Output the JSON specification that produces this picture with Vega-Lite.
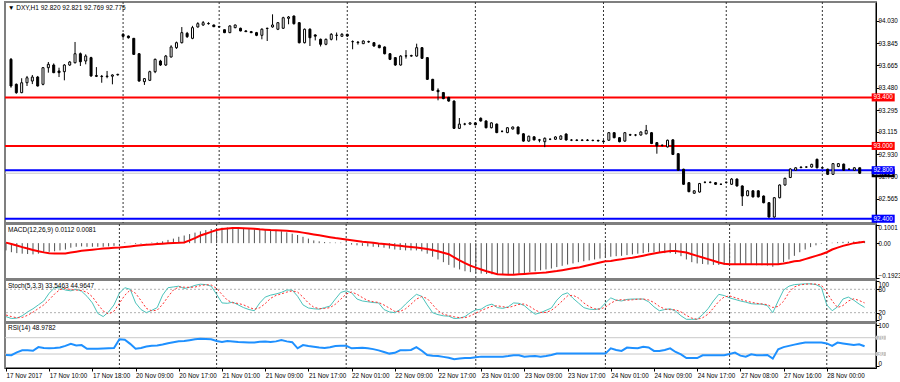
{
"$schema": "https://vega.github.io/schema/vega-lite/v6.json",
"padding": {"left": 0, "top": 0, "right": 0, "bottom": 0},
"background": "white",
"bounds": "flush",
"spacing": 1,
"config": {
  "font": "Liberation Sans",
  "view": {"stroke": "#7f7f7f", "strokeWidth": 2},
  "axis": {"domainColor": "black", "tickColor": "black", "labelColor": "black", "labelFontSize": 6.3, "labelFont": "Liberation Sans", "grid": false, "title": null, "tickSize": 3, "labelPadding": -1, "labelOverlap": false, "labelFlush": false},
  "title": {"fontSize": 6.5, "fontWeight": "normal", "font": "Liberation Sans", "anchor": "start", "frame": "group", "offset": -9.5, "dx": 3, "color": "black"}
},
"datasets": {
"seps": [{"i":21},{"i":39},{"i":63},{"i":87},{"i":111},{"i":134},{"i":152}],
"levels": [{"p":93.4,"kind":"res","t":"93.400"},{"p":93.0,"kind":"res","t":"93.000"},{"p":92.8,"kind":"sup","t":"92.800"},{"p":92.4,"kind":"sup","t":"92.400"}],
"bid": [{"p":92.775,"t":"92.775"}],
"stochlv": [{"v":80},{"v":20}],
"rsilv": [{"v":70,"t":"70"},{"v":30,"t":"30"}],
"bars": [
{"i":0,"o":93.714,"h":93.725,"l":93.48,"c":93.494,"m":-0.04,"s":0.003,"k":10,"d":14,"r":27.5},
{"i":1,"o":93.508,"h":93.515,"l":93.43,"c":93.439,"m":-0.05,"s":-0.005,"k":5,"d":10,"r":27},
{"i":2,"o":93.439,"h":93.558,"l":93.435,"c":93.521,"m":-0.055,"s":-0.013,"k":6,"d":7,"r":34},
{"i":3,"o":93.521,"h":93.577,"l":93.494,"c":93.562,"m":-0.058,"s":-0.022,"k":12,"d":7.7,"r":39},
{"i":4,"o":93.535,"h":93.585,"l":93.51,"c":93.568,"m":-0.06,"s":-0.03,"k":22,"d":13.3,"r":39},
{"i":5,"o":93.568,"h":93.577,"l":93.49,"c":93.494,"m":-0.062,"s":-0.038,"k":30,"d":21.3,"r":38},
{"i":6,"o":93.508,"h":93.65,"l":93.5,"c":93.645,"m":-0.058,"s":-0.045,"k":40,"d":30.7,"r":47},
{"i":7,"o":93.645,"h":93.692,"l":93.604,"c":93.673,"m":-0.05,"s":-0.051,"k":50,"d":40,"r":45},
{"i":8,"o":93.667,"h":93.68,"l":93.6,"c":93.604,"m":-0.048,"s":-0.056,"k":70,"d":53.3,"r":44},
{"i":9,"o":93.618,"h":93.645,"l":93.568,"c":93.604,"m":-0.045,"s":-0.057,"k":84,"d":68,"r":44.5},
{"i":10,"o":93.612,"h":93.675,"l":93.541,"c":93.667,"m":-0.04,"s":-0.057,"k":84,"d":79.3,"r":46},
{"i":11,"o":93.667,"h":93.7,"l":93.66,"c":93.692,"m":-0.035,"s":-0.057,"k":78,"d":82,"r":50},
{"i":12,"o":93.686,"h":93.857,"l":93.68,"c":93.76,"m":-0.025,"s":-0.052,"k":76,"d":79.3,"r":55},
{"i":13,"o":93.76,"h":93.77,"l":93.659,"c":93.694,"m":-0.02,"s":-0.047,"k":80,"d":78,"r":51},
{"i":14,"o":93.7,"h":93.755,"l":93.673,"c":93.741,"m":-0.018,"s":-0.042,"k":75,"d":77,"r":52},
{"i":15,"o":93.728,"h":93.735,"l":93.57,"c":93.577,"m":-0.02,"s":-0.039,"k":62,"d":72.3,"r":43},
{"i":16,"o":93.58,"h":93.65,"l":93.568,"c":93.574,"m":-0.02,"s":-0.036,"k":45,"d":60.7,"r":43},
{"i":17,"o":93.574,"h":93.585,"l":93.521,"c":93.572,"m":-0.02,"s":-0.033,"k":18,"d":41.7,"r":43},
{"i":18,"o":93.572,"h":93.618,"l":93.558,"c":93.576,"m":-0.02,"s":-0.03,"k":10,"d":24.3,"r":43.5},
{"i":19,"o":93.575,"h":93.59,"l":93.508,"c":93.585,"m":-0.018,"s":-0.028,"k":22,"d":16.7,"r":44},
{"i":20,"o":93.586,"h":93.595,"l":93.58,"c":93.59,"m":-0.015,"s":-0.026,"k":40,"d":24,"r":44.5},
{"i":21,"o":93.92,"h":93.93,"l":93.89,"c":93.904,"m":0.002,"s":-0.024,"k":70,"d":44,"r":66},
{"i":22,"o":93.906,"h":93.91,"l":93.885,"c":93.892,"m":0.004,"s":-0.021,"k":84,"d":64.7,"r":65},
{"i":23,"o":93.887,"h":93.89,"l":93.75,"c":93.755,"m":0.001,"s":-0.018,"k":80,"d":78,"r":55},
{"i":24,"o":93.76,"h":93.765,"l":93.53,"c":93.535,"m":-0.004,"s":-0.015,"k":45,"d":69.7,"r":43},
{"i":25,"o":93.53,"h":93.56,"l":93.503,"c":93.555,"m":-0.003,"s":-0.012,"k":28,"d":51,"r":45},
{"i":26,"o":93.541,"h":93.62,"l":93.535,"c":93.612,"m":-0.001,"s":-0.009,"k":20,"d":31,"r":48.5},
{"i":27,"o":93.612,"h":93.72,"l":93.6,"c":93.714,"m":0.003,"s":-0.007,"k":26,"d":24.7,"r":50},
{"i":28,"o":93.7,"h":93.71,"l":93.66,"c":93.667,"m":0.005,"s":-0.005,"k":33,"d":26.3,"r":51},
{"i":29,"o":93.667,"h":93.75,"l":93.66,"c":93.741,"m":0.01,"s":-0.003,"k":65,"d":41.3,"r":53.5},
{"i":30,"o":93.733,"h":93.83,"l":93.73,"c":93.816,"m":0.018,"s":-0.001,"k":84,"d":60.7,"r":56.5},
{"i":31,"o":93.81,"h":93.86,"l":93.8,"c":93.851,"m":0.025,"s":0.001,"k":86,"d":78.3,"r":59},
{"i":32,"o":93.851,"h":93.98,"l":93.845,"c":93.934,"m":0.035,"s":0.002,"k":88,"d":86,"r":61.5},
{"i":33,"o":93.928,"h":93.94,"l":93.89,"c":93.901,"m":0.042,"s":0.004,"k":82,"d":85.3,"r":62},
{"i":34,"o":93.887,"h":93.99,"l":93.88,"c":93.975,"m":0.05,"s":0.015,"k":85,"d":85,"r":64},
{"i":35,"o":93.981,"h":94.02,"l":93.975,"c":94.008,"m":0.058,"s":0.028,"k":90,"d":85.7,"r":66},
{"i":36,"o":93.997,"h":94.03,"l":93.99,"c":94.016,"m":0.065,"s":0.042,"k":93,"d":89.3,"r":67.5},
{"i":37,"o":94.01,"h":94.02,"l":94.0,"c":94.008,"m":0.072,"s":0.052,"k":92,"d":91.7,"r":67},
{"i":38,"o":93.997,"h":94.0,"l":93.98,"c":93.983,"m":0.078,"s":0.062,"k":88,"d":91,"r":66},
{"i":39,"o":93.983,"h":93.99,"l":93.975,"c":93.981,"m":0.08,"s":0.072,"k":67,"d":82.3,"r":62},
{"i":40,"o":93.958,"h":93.96,"l":93.93,"c":93.934,"m":0.085,"s":0.078,"k":45,"d":66.7,"r":59.6},
{"i":41,"o":93.934,"h":93.995,"l":93.93,"c":93.989,"m":0.086,"s":0.081,"k":44,"d":52,"r":62},
{"i":42,"o":93.975,"h":94.0,"l":93.97,"c":93.997,"m":0.087,"s":0.083,"k":47,"d":45.3,"r":61},
{"i":43,"o":93.97,"h":93.975,"l":93.945,"c":93.948,"m":0.085,"s":0.083,"k":40,"d":43.7,"r":59.6},
{"i":44,"o":93.948,"h":93.955,"l":93.94,"c":93.942,"m":0.08,"s":0.082,"k":33,"d":40,"r":59},
{"i":45,"o":93.942,"h":93.948,"l":93.93,"c":93.934,"m":0.078,"s":0.081,"k":28,"d":33.7,"r":58},
{"i":46,"o":93.934,"h":93.94,"l":93.905,"c":93.912,"m":0.076,"s":0.079,"k":25,"d":28.7,"r":58.5},
{"i":47,"o":93.912,"h":93.97,"l":93.879,"c":93.962,"m":0.075,"s":0.076,"k":45,"d":32.7,"r":60},
{"i":48,"o":93.968,"h":93.975,"l":93.865,"c":93.97,"m":0.075,"s":0.074,"k":60,"d":43.3,"r":60.5},
{"i":49,"o":93.981,"h":94.085,"l":93.975,"c":93.997,"m":0.074,"s":0.072,"k":65,"d":56.7,"r":59.6},
{"i":50,"o":93.962,"h":94.02,"l":93.955,"c":94.016,"m":0.07,"s":0.071,"k":68,"d":64.3,"r":61},
{"i":51,"o":93.97,"h":94.065,"l":93.965,"c":94.057,"m":0.066,"s":0.07,"k":72,"d":68.3,"r":64.5},
{"i":52,"o":94.052,"h":94.071,"l":94.003,"c":94.063,"m":0.06,"s":0.068,"k":78,"d":72.7,"r":61},
{"i":53,"o":94.071,"h":94.075,"l":94.0,"c":94.008,"m":0.052,"s":0.066,"k":78,"d":76,"r":59},
{"i":54,"o":94.016,"h":94.02,"l":93.845,"c":93.851,"m":0.045,"s":0.063,"k":62,"d":72.7,"r":44},
{"i":55,"o":93.851,"h":93.968,"l":93.845,"c":93.962,"m":0.035,"s":0.058,"k":40,"d":60,"r":52},
{"i":56,"o":93.962,"h":93.97,"l":93.824,"c":93.892,"m":0.025,"s":0.053,"k":32,"d":44.7,"r":49.5},
{"i":57,"o":93.915,"h":93.92,"l":93.87,"c":93.905,"m":0.015,"s":0.048,"k":30,"d":34,"r":48},
{"i":58,"o":93.879,"h":93.885,"l":93.82,"c":93.838,"m":0.01,"s":0.043,"k":29,"d":30.3,"r":46},
{"i":59,"o":93.838,"h":93.885,"l":93.83,"c":93.879,"m":0.006,"s":0.038,"k":33,"d":30.7,"r":44.5},
{"i":60,"o":93.879,"h":93.93,"l":93.87,"c":93.92,"m":0.004,"s":0.033,"k":37,"d":33,"r":46.5},
{"i":61,"o":93.912,"h":93.935,"l":93.87,"c":93.912,"m":0.003,"s":0.028,"k":55,"d":41.7,"r":49.5},
{"i":62,"o":93.904,"h":93.93,"l":93.9,"c":93.92,"m":0.003,"s":0.024,"k":72,"d":54.7,"r":50},
{"i":63,"o":93.92,"h":93.925,"l":93.9,"c":93.906,"m":0.002,"s":0.02,"k":76,"d":67.7,"r":50},
{"i":64,"o":93.86,"h":93.87,"l":93.797,"c":93.86,"m":-0.008,"s":0.016,"k":71,"d":73,"r":44},
{"i":65,"o":93.855,"h":93.865,"l":93.835,"c":93.851,"m":-0.012,"s":0.012,"k":55,"d":67.3,"r":45},
{"i":66,"o":93.843,"h":93.87,"l":93.84,"c":93.865,"m":-0.015,"s":0.008,"k":50,"d":58.7,"r":45.5},
{"i":67,"o":93.86,"h":93.868,"l":93.85,"c":93.858,"m":-0.018,"s":0.005,"k":48,"d":51,"r":44},
{"i":68,"o":93.851,"h":93.856,"l":93.818,"c":93.824,"m":-0.02,"s":0.002,"k":46,"d":48,"r":42},
{"i":69,"o":93.83,"h":93.835,"l":93.805,"c":93.81,"m":-0.022,"s":-0.002,"k":45,"d":46.3,"r":39},
{"i":70,"o":93.816,"h":93.82,"l":93.755,"c":93.76,"m":-0.025,"s":-0.005,"k":28,"d":39.7,"r":35},
{"i":71,"o":93.76,"h":93.765,"l":93.708,"c":93.714,"m":-0.03,"s":-0.008,"k":22,"d":31.7,"r":31},
{"i":72,"o":93.728,"h":93.732,"l":93.66,"c":93.667,"m":-0.035,"s":-0.012,"k":20,"d":23.3,"r":33},
{"i":73,"o":93.667,"h":93.748,"l":93.662,"c":93.741,"m":-0.038,"s":-0.015,"k":28,"d":23.3,"r":39},
{"i":74,"o":93.741,"h":93.79,"l":93.72,"c":93.743,"m":-0.04,"s":-0.018,"k":42,"d":30,"r":39},
{"i":75,"o":93.741,"h":93.752,"l":93.735,"c":93.745,"m":-0.04,"s":-0.021,"k":55,"d":41.7,"r":40},
{"i":76,"o":93.741,"h":93.843,"l":93.736,"c":93.81,"m":-0.04,"s":-0.024,"k":67,"d":54.7,"r":47},
{"i":77,"o":93.81,"h":93.815,"l":93.718,"c":93.722,"m":-0.045,"s":-0.028,"k":62,"d":61.3,"r":38},
{"i":78,"o":93.728,"h":93.732,"l":93.544,"c":93.549,"m":-0.058,"s":-0.032,"k":40,"d":56.3,"r":27.7},
{"i":79,"o":93.549,"h":93.553,"l":93.453,"c":93.459,"m":-0.075,"s":-0.038,"k":20,"d":40.7,"r":26},
{"i":80,"o":93.459,"h":93.475,"l":93.376,"c":93.447,"m":-0.09,"s":-0.045,"k":15,"d":25,"r":25},
{"i":81,"o":93.44,"h":93.445,"l":93.385,"c":93.39,"m":-0.105,"s":-0.053,"k":12,"d":15.7,"r":23},
{"i":82,"o":93.4,"h":93.405,"l":93.365,"c":93.37,"m":-0.12,"s":-0.061,"k":11,"d":12.7,"r":21},
{"i":83,"o":93.37,"h":93.375,"l":93.14,"c":93.145,"m":-0.135,"s":-0.079,"k":5,"d":9.3,"r":17},
{"i":84,"o":93.145,"h":93.23,"l":93.14,"c":93.18,"m":-0.145,"s":-0.095,"k":6,"d":7.3,"r":19},
{"i":85,"o":93.18,"h":93.19,"l":93.17,"c":93.18,"m":-0.155,"s":-0.11,"k":10,"d":7,"r":20},
{"i":86,"o":93.18,"h":93.195,"l":93.175,"c":93.19,"m":-0.16,"s":-0.124,"k":20,"d":12,"r":20.5},
{"i":87,"o":93.19,"h":93.195,"l":93.17,"c":93.175,"m":-0.165,"s":-0.135,"k":27,"d":19,"r":22},
{"i":88,"o":93.228,"h":93.235,"l":93.2,"c":93.206,"m":-0.168,"s":-0.145,"k":29,"d":25.3,"r":23.6},
{"i":89,"o":93.206,"h":93.21,"l":93.145,"c":93.15,"m":-0.17,"s":-0.155,"k":38,"d":31.3,"r":23.6},
{"i":90,"o":93.15,"h":93.195,"l":93.145,"c":93.19,"m":-0.172,"s":-0.163,"k":42,"d":36.3,"r":23.6},
{"i":91,"o":93.18,"h":93.185,"l":93.105,"c":93.11,"m":-0.175,"s":-0.171,"k":33,"d":37.7,"r":23.6},
{"i":92,"o":93.12,"h":93.128,"l":93.112,"c":93.12,"m":-0.175,"s":-0.173,"k":31,"d":35.3,"r":23.6},
{"i":93,"o":93.11,"h":93.155,"l":93.105,"c":93.15,"m":-0.172,"s":-0.175,"k":35,"d":33,"r":25},
{"i":94,"o":93.14,"h":93.16,"l":93.135,"c":93.156,"m":-0.17,"s":-0.174,"k":45,"d":37,"r":27},
{"i":95,"o":93.156,"h":93.16,"l":93.095,"c":93.1,"m":-0.168,"s":-0.172,"k":44,"d":41.3,"r":27},
{"i":96,"o":93.1,"h":93.105,"l":93.035,"c":93.04,"m":-0.165,"s":-0.17,"k":38,"d":42.3,"r":23.6},
{"i":97,"o":93.04,"h":93.085,"l":93.035,"c":93.08,"m":-0.16,"s":-0.168,"k":26,"d":36,"r":24.5},
{"i":98,"o":93.075,"h":93.08,"l":93.045,"c":93.05,"m":-0.155,"s":-0.166,"k":16,"d":26.7,"r":25},
{"i":99,"o":93.05,"h":93.058,"l":93.03,"c":93.048,"m":-0.15,"s":-0.164,"k":20,"d":20.7,"r":23.6},
{"i":100,"o":93.035,"h":93.07,"l":92.99,"c":93.063,"m":-0.145,"s":-0.162,"k":26,"d":20.7,"r":25},
{"i":101,"o":93.055,"h":93.062,"l":93.048,"c":93.055,"m":-0.14,"s":-0.158,"k":32,"d":26,"r":27.7},
{"i":102,"o":93.055,"h":93.08,"l":93.05,"c":93.074,"m":-0.132,"s":-0.154,"k":52,"d":36.7,"r":31},
{"i":103,"o":93.055,"h":93.088,"l":93.05,"c":93.082,"m":-0.125,"s":-0.149,"k":66,"d":50,"r":31},
{"i":104,"o":93.098,"h":93.104,"l":93.044,"c":93.049,"m":-0.118,"s":-0.144,"k":71,"d":63,"r":31},
{"i":105,"o":93.048,"h":93.056,"l":93.04,"c":93.048,"m":-0.112,"s":-0.139,"k":57,"d":64.7,"r":31},
{"i":106,"o":93.048,"h":93.055,"l":93.04,"c":93.046,"m":-0.105,"s":-0.135,"k":45,"d":57.7,"r":31},
{"i":107,"o":93.046,"h":93.055,"l":93.04,"c":93.048,"m":-0.1,"s":-0.128,"k":33,"d":45,"r":31},
{"i":108,"o":93.048,"h":93.056,"l":93.04,"c":93.046,"m":-0.095,"s":-0.121,"k":29,"d":35.7,"r":31},
{"i":109,"o":93.046,"h":93.052,"l":93.038,"c":93.045,"m":-0.09,"s":-0.114,"k":28,"d":30,"r":31},
{"i":110,"o":93.045,"h":93.052,"l":93.035,"c":93.042,"m":-0.085,"s":-0.107,"k":30,"d":29,"r":31},
{"i":111,"o":93.04,"h":93.048,"l":93.03,"c":93.035,"m":-0.08,"s":-0.1,"k":45,"d":34.3,"r":31},
{"i":112,"o":93.047,"h":93.115,"l":93.042,"c":93.109,"m":-0.075,"s":-0.098,"k":58,"d":44.3,"r":44},
{"i":113,"o":93.109,"h":93.114,"l":93.063,"c":93.068,"m":-0.072,"s":-0.093,"k":52,"d":51.7,"r":40},
{"i":114,"o":93.068,"h":93.072,"l":93.03,"c":93.035,"m":-0.07,"s":-0.089,"k":50,"d":53.3,"r":37.5},
{"i":115,"o":93.04,"h":93.115,"l":93.035,"c":93.109,"m":-0.066,"s":-0.084,"k":54,"d":52,"r":45.7},
{"i":116,"o":93.092,"h":93.1,"l":93.082,"c":93.09,"m":-0.062,"s":-0.08,"k":55,"d":53,"r":45},
{"i":117,"o":93.09,"h":93.098,"l":93.08,"c":93.09,"m":-0.058,"s":-0.075,"k":55,"d":54.7,"r":44},
{"i":118,"o":93.09,"h":93.12,"l":93.085,"c":93.115,"m":-0.055,"s":-0.069,"k":55,"d":55,"r":48},
{"i":119,"o":93.1,"h":93.173,"l":93.095,"c":93.128,"m":-0.05,"s":-0.063,"k":48,"d":52.7,"r":46},
{"i":120,"o":93.109,"h":93.115,"l":93.015,"c":93.02,"m":-0.05,"s":-0.057,"k":35,"d":46,"r":37.5},
{"i":121,"o":93.027,"h":93.032,"l":92.936,"c":93.0,"m":-0.052,"s":-0.052,"k":25,"d":36,"r":37.5},
{"i":122,"o":93.005,"h":93.012,"l":92.995,"c":93.005,"m":-0.055,"s":-0.047,"k":28,"d":29.3,"r":40},
{"i":123,"o":92.992,"h":93.052,"l":92.987,"c":93.047,"m":-0.055,"s":-0.043,"k":30,"d":27.7,"r":44},
{"i":124,"o":93.05,"h":93.055,"l":92.925,"c":92.93,"m":-0.06,"s":-0.044,"k":24,"d":27.3,"r":35},
{"i":125,"o":92.936,"h":92.94,"l":92.795,"c":92.8,"m":-0.072,"s":-0.048,"k":12,"d":22,"r":29},
{"i":126,"o":92.808,"h":92.812,"l":92.679,"c":92.684,"m":-0.09,"s":-0.052,"k":3,"d":13,"r":20},
{"i":127,"o":92.697,"h":92.702,"l":92.618,"c":92.623,"m":-0.105,"s":-0.061,"k":3,"d":6,"r":20},
{"i":128,"o":92.61,"h":92.635,"l":92.605,"c":92.63,"m":-0.112,"s":-0.07,"k":3,"d":3,"r":20},
{"i":129,"o":92.62,"h":92.695,"l":92.615,"c":92.69,"m":-0.115,"s":-0.079,"k":15,"d":7,"r":27},
{"i":130,"o":92.7,"h":92.708,"l":92.692,"c":92.7,"m":-0.118,"s":-0.088,"k":30,"d":16,"r":27},
{"i":131,"o":92.7,"h":92.708,"l":92.692,"c":92.7,"m":-0.12,"s":-0.097,"k":50,"d":31.7,"r":27},
{"i":132,"o":92.697,"h":92.702,"l":92.679,"c":92.684,"m":-0.12,"s":-0.107,"k":67,"d":49,"r":27},
{"i":133,"o":92.684,"h":92.69,"l":92.678,"c":92.684,"m":-0.12,"s":-0.114,"k":64,"d":60.3,"r":27},
{"i":134,"o":92.7,"h":92.706,"l":92.694,"c":92.7,"m":-0.118,"s":-0.116,"k":58,"d":63,"r":30},
{"i":135,"o":92.684,"h":92.735,"l":92.679,"c":92.727,"m":-0.115,"s":-0.116,"k":54,"d":58.7,"r":33.4},
{"i":136,"o":92.727,"h":92.732,"l":92.665,"c":92.67,"m":-0.115,"s":-0.116,"k":50,"d":54,"r":26},
{"i":137,"o":92.67,"h":92.675,"l":92.505,"c":92.587,"m":-0.12,"s":-0.116,"k":47,"d":50.3,"r":23.6},
{"i":138,"o":92.59,"h":92.635,"l":92.585,"c":92.63,"m":-0.12,"s":-0.116,"k":43,"d":46.7,"r":29.4},
{"i":139,"o":92.63,"h":92.635,"l":92.575,"c":92.58,"m":-0.122,"s":-0.116,"k":42,"d":44,"r":27},
{"i":140,"o":92.63,"h":92.635,"l":92.575,"c":92.58,"m":-0.122,"s":-0.116,"k":42,"d":42.3,"r":27},
{"i":141,"o":92.587,"h":92.592,"l":92.527,"c":92.532,"m":-0.124,"s":-0.116,"k":38,"d":40.7,"r":27.7},
{"i":142,"o":92.532,"h":92.537,"l":92.409,"c":92.414,"m":-0.13,"s":-0.116,"k":20,"d":33.3,"r":18.7},
{"i":143,"o":92.414,"h":92.578,"l":92.409,"c":92.573,"m":-0.12,"s":-0.116,"k":50,"d":36,"r":41.7},
{"i":144,"o":92.573,"h":92.683,"l":92.568,"c":92.678,"m":-0.105,"s":-0.112,"k":78,"d":49.3,"r":47},
{"i":145,"o":92.678,"h":92.738,"l":92.673,"c":92.733,"m":-0.09,"s":-0.107,"k":88,"d":72,"r":50},
{"i":146,"o":92.74,"h":92.815,"l":92.735,"c":92.81,"m":-0.07,"s":-0.1,"k":92,"d":86,"r":53},
{"i":147,"o":92.8,"h":92.825,"l":92.795,"c":92.82,"m":-0.05,"s":-0.097,"k":93,"d":91,"r":56},
{"i":148,"o":92.822,"h":92.83,"l":92.815,"c":92.826,"m":-0.035,"s":-0.088,"k":94,"d":93,"r":58},
{"i":149,"o":92.826,"h":92.832,"l":92.818,"c":92.826,"m":-0.022,"s":-0.079,"k":94,"d":93.7,"r":58},
{"i":150,"o":92.826,"h":92.853,"l":92.821,"c":92.848,"m":-0.012,"s":-0.07,"k":92,"d":93.3,"r":58},
{"i":151,"o":92.89,"h":92.895,"l":92.815,"c":92.82,"m":-0.004,"s":-0.061,"k":85,"d":90.3,"r":58},
{"i":152,"o":92.82,"h":92.826,"l":92.812,"c":92.818,"m":0.0,"s":-0.05,"k":40,"d":72.3,"r":56},
{"i":153,"o":92.808,"h":92.813,"l":92.761,"c":92.766,"m":0.002,"s":-0.035,"k":25,"d":50,"r":50},
{"i":154,"o":92.766,"h":92.859,"l":92.761,"c":92.854,"m":0.005,"s":-0.025,"k":35,"d":33.3,"r":58},
{"i":155,"o":92.83,"h":92.859,"l":92.825,"c":92.854,"m":0.007,"s":-0.015,"k":55,"d":38.3,"r":56},
{"i":156,"o":92.85,"h":92.855,"l":92.795,"c":92.8,"m":0.008,"s":-0.008,"k":60,"d":50,"r":54},
{"i":157,"o":92.808,"h":92.814,"l":92.802,"c":92.808,"m":0.009,"s":0.0,"k":52,"d":55.7,"r":52},
{"i":158,"o":92.8,"h":92.825,"l":92.795,"c":92.82,"m":0.01,"s":0.004,"k":42,"d":51.3,"r":54},
{"i":159,"o":92.82,"h":92.821,"l":92.769,"c":92.775,"m":0.0112,"s":0.0081,"k":33.5,"d":45,"r":49}
]
},
"vconcat": [
{
  "width": 871, "height": 221,
  "title": {"text": "▼  DXY,H1  92.820 92.821 92.769 92.775"},
  "layer": [
    {"data": {"name": "seps"}, "mark": {"type": "rule", "color": "#333333", "strokeDash": [2, 2], "strokeWidth": 1},
     "encoding": {"x": {"field": "i", "type": "quantitative", "scale": {"domain": [-0.185, 161.115], "nice": false, "zero": false}, "axis": null}}},
    {"data": {"name": "bid"}, "mark": {"type": "rule", "color": "#c8c8c8", "strokeWidth": 1},
     "encoding": {"y": {"field": "p", "type": "quantitative", "scale": {"domain": [92.3647, 94.1866], "nice": false, "zero": false},
                        "axis": {"orient": "right", "values": [94.03, 93.845, 93.665, 93.48, 93.295, 93.115, 92.93, 92.75, 92.565], "format": ".3f", "labelAlign": "left", "labelBaseline": "middle"}}}},
    {"data": {"name": "levels"}, "mark": {"type": "rule", "strokeWidth": 2},
     "encoding": {"y": {"field": "p", "type": "quantitative", "scale": {"domain": [92.3647, 94.1866], "nice": false, "zero": false},
                        "axis": {"orient": "right", "values": [94.03, 93.845, 93.665, 93.48, 93.295, 93.115, 92.93, 92.75, 92.565], "format": ".3f", "labelAlign": "left", "labelBaseline": "middle"}},
                  "color": {"field": "kind", "type": "nominal", "scale": {"domain": ["res", "sup"], "range": ["#ff0000", "#0000ff"]}, "legend": null}}},
    {"data": {"name": "bars"}, "mark": {"type": "rule", "color": "black", "strokeWidth": 1},
     "encoding": {
       "x": {"field": "i", "type": "quantitative", "scale": {"domain": [-0.185, 161.115], "nice": false, "zero": false}, "axis": null},
       "y": {"field": "l", "type": "quantitative", "scale": {"domain": [92.3647, 94.1866], "nice": false, "zero": false},
             "axis": {"orient": "right", "values": [94.03, 93.845, 93.665, 93.48, 93.295, 93.115, 92.93, 92.75, 92.565], "format": ".3f", "labelAlign": "left", "labelBaseline": "middle"}},
       "y2": {"field": "h"}}},
    {"data": {"name": "bars"}, "mark": {"type": "bar", "size": 2, "stroke": "black", "strokeWidth": 1},
     "encoding": {
       "x": {"field": "i", "type": "quantitative", "scale": {"domain": [-0.185, 161.115], "nice": false, "zero": false}, "axis": null},
       "y": {"field": "o", "type": "quantitative", "scale": {"domain": [92.3647, 94.1866], "nice": false, "zero": false},
             "axis": {"orient": "right", "values": [94.03, 93.845, 93.665, 93.48, 93.295, 93.115, 92.93, 92.75, 92.565], "format": ".3f", "labelAlign": "left", "labelBaseline": "middle"}},
       "y2": {"field": "c"},
       "fill": {"condition": {"test": "datum.c < datum.o", "value": "black"}, "value": "white"}}},
    {"data": {"name": "bid"}, "mark": {"type": "point", "shape": "M-1,-0.35L1,-0.35L1,0.35L-1,0.35Z", "filled": true, "size": 529, "opacity": 1, "color": "black"},
     "encoding": {
       "x": {"datum": 163.4, "type": "quantitative", "scale": {"domain": [-0.185, 161.115], "nice": false, "zero": false}, "axis": null},
       "y": {"field": "p", "type": "quantitative", "scale": {"domain": [92.3647, 94.1866], "nice": false, "zero": false},
             "axis": {"orient": "right", "values": [94.03, 93.845, 93.665, 93.48, 93.295, 93.115, 92.93, 92.75, 92.565], "format": ".3f", "labelAlign": "left", "labelBaseline": "middle"}}}},
    {"data": {"name": "bid"}, "mark": {"type": "text", "color": "white", "fontSize": 6.3, "align": "center", "baseline": "middle", "font": "Liberation Sans"},
     "encoding": {
       "x": {"datum": 163.4, "type": "quantitative", "scale": {"domain": [-0.185, 161.115], "nice": false, "zero": false}, "axis": null},
       "y": {"field": "p", "type": "quantitative", "scale": {"domain": [92.3647, 94.1866], "nice": false, "zero": false},
             "axis": {"orient": "right", "values": [94.03, 93.845, 93.665, 93.48, 93.295, 93.115, 92.93, 92.75, 92.565], "format": ".3f", "labelAlign": "left", "labelBaseline": "middle"}},
       "text": {"field": "t"}}},
    {"data": {"name": "levels"}, "mark": {"type": "point", "shape": "M-1,-0.35L1,-0.35L1,0.35L-1,0.35Z", "filled": true, "size": 529, "opacity": 1},
     "encoding": {
       "x": {"datum": 163.4, "type": "quantitative", "scale": {"domain": [-0.185, 161.115], "nice": false, "zero": false}, "axis": null},
       "y": {"field": "p", "type": "quantitative", "scale": {"domain": [92.3647, 94.1866], "nice": false, "zero": false},
             "axis": {"orient": "right", "values": [94.03, 93.845, 93.665, 93.48, 93.295, 93.115, 92.93, 92.75, 92.565], "format": ".3f", "labelAlign": "left", "labelBaseline": "middle"}},
       "color": {"field": "kind", "type": "nominal", "scale": {"domain": ["res", "sup"], "range": ["#ff0000", "#0000ff"]}, "legend": null}}},
    {"data": {"name": "levels"}, "mark": {"type": "text", "color": "white", "fontSize": 6.3, "align": "center", "baseline": "middle", "font": "Liberation Sans"},
     "encoding": {
       "x": {"datum": 163.4, "type": "quantitative", "scale": {"domain": [-0.185, 161.115], "nice": false, "zero": false}, "axis": null},
       "y": {"field": "p", "type": "quantitative", "scale": {"domain": [92.3647, 94.1866], "nice": false, "zero": false},
             "axis": {"orient": "right", "values": [94.03, 93.845, 93.665, 93.48, 93.295, 93.115, 92.93, 92.75, 92.565], "format": ".3f", "labelAlign": "left", "labelBaseline": "middle"}},
       "text": {"field": "t"}}}
  ]
},
{
  "width": 871, "height": 55,
  "title": {"text": "MACD(12,26,9) 0.0112 0.0081"},
  "layer": [
    {"data": {"name": "seps"}, "mark": {"type": "rule", "color": "#333333", "strokeDash": [2, 2], "strokeWidth": 1},
     "encoding": {"x": {"field": "i", "type": "quantitative", "scale": {"domain": [-0.185, 161.115], "nice": false, "zero": false}, "axis": null}}},
    {"data": {"name": "bars"}, "mark": {"type": "rule", "color": "#505050", "strokeWidth": 1},
     "encoding": {
       "x": {"field": "i", "type": "quantitative", "scale": {"domain": [-0.185, 161.115], "nice": false, "zero": false}, "axis": null},
       "y": {"field": "m", "type": "quantitative", "scale": {"domain": [-0.1978, 0.1056], "nice": false, "zero": false},
             "axis": {"orient": "right", "values": [0.1001, 0, -0.1923], "labelExpr": "datum.value == 0 ? '0.00' : format(datum.value, '.4f')", "labelAlign": "left",
                      "labelBaseline": {"condition": [{"test": "datum.value > 0.05", "value": "top"}, {"test": "datum.value < -0.05", "value": "bottom"}], "value": "middle"}}},
       "y2": {"datum": 0}}},
    {"data": {"name": "bars"}, "mark": {"type": "line", "color": "#ff0000", "strokeWidth": 2},
     "encoding": {
       "x": {"field": "i", "type": "quantitative", "scale": {"domain": [-0.185, 161.115], "nice": false, "zero": false}, "axis": null},
       "y": {"field": "s", "type": "quantitative", "scale": {"domain": [-0.1978, 0.1056], "nice": false, "zero": false},
             "axis": {"orient": "right", "values": [0.1001, 0, -0.1923], "labelExpr": "datum.value == 0 ? '0.00' : format(datum.value, '.4f')", "labelAlign": "left",
                      "labelBaseline": {"condition": [{"test": "datum.value > 0.05", "value": "top"}, {"test": "datum.value < -0.05", "value": "bottom"}], "value": "middle"}}}}}
  ]
},
{
  "width": 871, "height": 42,
  "title": {"text": "Stoch(5,3,3) 33.5463 44.9647"},
  "layer": [
    {"data": {"name": "seps"}, "mark": {"type": "rule", "color": "#333333", "strokeDash": [2, 2], "strokeWidth": 1},
     "encoding": {"x": {"field": "i", "type": "quantitative", "scale": {"domain": [-0.185, 161.115], "nice": false, "zero": false}, "axis": null}}},
    {"data": {"name": "stochlv"}, "mark": {"type": "rule", "color": "#b0b0b0", "strokeDash": [2, 2], "strokeWidth": 1},
     "encoding": {"y": {"field": "v", "type": "quantitative", "scale": {"domain": [-3.9, 103.8], "nice": false, "zero": false},
                        "axis": {"orient": "right", "values": [100, 80, 20, 0], "labelAlign": "left", "labelBaseline": {"condition": [{"test": "datum.value == 100", "value": "top"}, {"test": "datum.value == 0", "value": "bottom"}], "value": "middle"}}}}},
    {"data": {"name": "bars"}, "mark": {"type": "line", "color": "#4cc3bb", "strokeWidth": 1},
     "encoding": {
       "x": {"field": "i", "type": "quantitative", "scale": {"domain": [-0.185, 161.115], "nice": false, "zero": false}, "axis": null},
       "y": {"field": "k", "type": "quantitative", "scale": {"domain": [-3.9, 103.8], "nice": false, "zero": false},
             "axis": {"orient": "right", "values": [100, 80, 20, 0], "labelAlign": "left", "labelBaseline": {"condition": [{"test": "datum.value == 100", "value": "top"}, {"test": "datum.value == 0", "value": "bottom"}], "value": "middle"}}}}},
    {"data": {"name": "bars"}, "mark": {"type": "line", "color": "#ff3030", "strokeWidth": 1, "strokeDash": [2, 2]},
     "encoding": {
       "x": {"field": "i", "type": "quantitative", "scale": {"domain": [-0.185, 161.115], "nice": false, "zero": false}, "axis": null},
       "y": {"field": "d", "type": "quantitative", "scale": {"domain": [-3.9, 103.8], "nice": false, "zero": false},
             "axis": {"orient": "right", "values": [100, 80, 20, 0], "labelAlign": "left", "labelBaseline": {"condition": [{"test": "datum.value == 100", "value": "top"}, {"test": "datum.value == 0", "value": "bottom"}], "value": "middle"}}}}}
  ]
},
{
  "width": 871, "height": 45,
  "title": {"text": "RSI(14) 48.9782"},
  "layer": [
    {"data": {"name": "seps"}, "mark": {"type": "rule", "color": "#333333", "strokeDash": [2, 2], "strokeWidth": 1},
     "encoding": {"x": {"field": "i", "type": "quantitative", "scale": {"domain": [-0.185, 161.115], "nice": false, "zero": false},
             "axis": {"orient": "bottom", "values": [0, 8, 16, 24, 32, 40, 48, 56, 64, 72, 80, 88, 96, 104, 112, 120, 128, 136, 144, 152], "labelAlign": "left", "labelDx": 1, "labelBaseline": "top", "labelPadding": 1,
                      "labelExpr": "['17 Nov 2017','17 Nov 10:00','17 Nov 18:00','20 Nov 09:00','20 Nov 17:00','21 Nov 01:00','21 Nov 09:00','21 Nov 17:00','22 Nov 01:00','22 Nov 09:00','22 Nov 17:00','23 Nov 01:00','23 Nov 09:00','23 Nov 17:00','24 Nov 01:00','24 Nov 09:00','24 Nov 17:00','27 Nov 08:00','27 Nov 16:00','28 Nov 00:00'][round(datum.value / 8)]"}}}},
    {"data": {"name": "rsilv"}, "mark": {"type": "rule", "color": "#c8c8c8", "strokeWidth": 1},
     "encoding": {"y": {"field": "v", "type": "quantitative", "scale": {"domain": [-4.3, 106.1], "nice": false, "zero": false},
                        "axis": {"orient": "right", "values": [100, 0], "labelAlign": "left", "labelBaseline": {"condition": {"test": "datum.value == 0", "value": "bottom"}, "value": "middle"}}}}},
    {"data": {"name": "bars"}, "mark": {"type": "line", "color": "#1e90ff", "strokeWidth": 2},
     "encoding": {
       "x": {"field": "i", "type": "quantitative", "scale": {"domain": [-0.185, 161.115], "nice": false, "zero": false},
             "axis": {"orient": "bottom", "values": [0, 8, 16, 24, 32, 40, 48, 56, 64, 72, 80, 88, 96, 104, 112, 120, 128, 136, 144, 152], "labelAlign": "left", "labelDx": 1, "labelBaseline": "top", "labelPadding": 1,
                      "labelExpr": "['17 Nov 2017','17 Nov 10:00','17 Nov 18:00','20 Nov 09:00','20 Nov 17:00','21 Nov 01:00','21 Nov 09:00','21 Nov 17:00','22 Nov 01:00','22 Nov 09:00','22 Nov 17:00','23 Nov 01:00','23 Nov 09:00','23 Nov 17:00','24 Nov 01:00','24 Nov 09:00','24 Nov 17:00','27 Nov 08:00','27 Nov 16:00','28 Nov 00:00'][round(datum.value / 8)]"}},
       "y": {"field": "r", "type": "quantitative", "scale": {"domain": [-4.3, 106.1], "nice": false, "zero": false},
             "axis": {"orient": "right", "values": [100, 0], "labelAlign": "left", "labelBaseline": {"condition": {"test": "datum.value == 0", "value": "bottom"}, "value": "middle"}}}}},
    {"data": {"name": "rsilv"}, "mark": {"type": "point", "shape": "M-1,-0.4L1,-0.4L1,0.4L-1,0.4Z", "filled": true, "size": 100, "color": "#c0c0c0", "opacity": 1},
     "encoding": {
       "x": {"datum": 162.0, "type": "quantitative", "scale": {"domain": [-0.185, 161.115], "nice": false, "zero": false},
             "axis": {"orient": "bottom", "values": [0, 8, 16, 24, 32, 40, 48, 56, 64, 72, 80, 88, 96, 104, 112, 120, 128, 136, 144, 152], "labelAlign": "left", "labelDx": 1, "labelBaseline": "top", "labelPadding": 1,
                      "labelExpr": "['17 Nov 2017','17 Nov 10:00','17 Nov 18:00','20 Nov 09:00','20 Nov 17:00','21 Nov 01:00','21 Nov 09:00','21 Nov 17:00','22 Nov 01:00','22 Nov 09:00','22 Nov 17:00','23 Nov 01:00','23 Nov 09:00','23 Nov 17:00','24 Nov 01:00','24 Nov 09:00','24 Nov 17:00','27 Nov 08:00','27 Nov 16:00','28 Nov 00:00'][round(datum.value / 8)]"}},
       "y": {"field": "v", "type": "quantitative", "scale": {"domain": [-4.3, 106.1], "nice": false, "zero": false},
             "axis": {"orient": "right", "values": [100, 0], "labelAlign": "left", "labelBaseline": {"condition": {"test": "datum.value == 0", "value": "bottom"}, "value": "middle"}}}}},
    {"data": {"name": "rsilv"}, "mark": {"type": "text", "color": "white", "fontSize": 6.3, "align": "center", "baseline": "middle", "font": "Liberation Sans"},
     "encoding": {
       "x": {"datum": 162.0, "type": "quantitative", "scale": {"domain": [-0.185, 161.115], "nice": false, "zero": false},
             "axis": {"orient": "bottom", "values": [0, 8, 16, 24, 32, 40, 48, 56, 64, 72, 80, 88, 96, 104, 112, 120, 128, 136, 144, 152], "labelAlign": "left", "labelDx": 1, "labelBaseline": "top", "labelPadding": 1,
                      "labelExpr": "['17 Nov 2017','17 Nov 10:00','17 Nov 18:00','20 Nov 09:00','20 Nov 17:00','21 Nov 01:00','21 Nov 09:00','21 Nov 17:00','22 Nov 01:00','22 Nov 09:00','22 Nov 17:00','23 Nov 01:00','23 Nov 09:00','23 Nov 17:00','24 Nov 01:00','24 Nov 09:00','24 Nov 17:00','27 Nov 08:00','27 Nov 16:00','28 Nov 00:00'][round(datum.value / 8)]"}},
       "y": {"field": "v", "type": "quantitative", "scale": {"domain": [-4.3, 106.1], "nice": false, "zero": false},
             "axis": {"orient": "right", "values": [100, 0], "labelAlign": "left", "labelBaseline": {"condition": {"test": "datum.value == 0", "value": "bottom"}, "value": "middle"}}},
       "text": {"field": "t"}}}
  ]
}
]
}
